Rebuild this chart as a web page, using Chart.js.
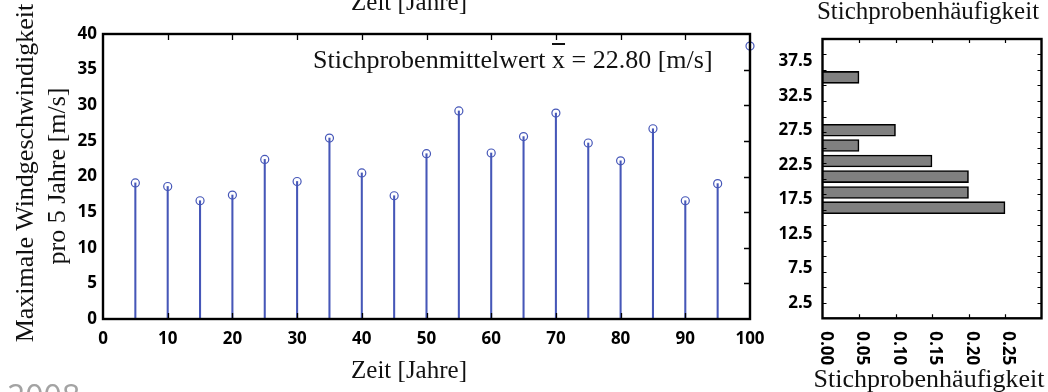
<!DOCTYPE html>
<html>
<head>
<meta charset="utf-8">
<script src="https://cdn.jsdelivr.net/npm/chart.js@4.4.1/dist/chart.umd.min.js"></script>
<style>
  html, body { margin: 0; padding: 0; background: #fff; }
  body { width: 1048px; height: 392px; position: relative; overflow: hidden; }
  canvas { position: absolute; top: 0; }
  #stemChart { left: 0; }
  #histChart { left: 760px; }
  .lbl {
    position: absolute;
    font-family: "Liberation Serif", "Times New Roman", serif;
    font-size: 25px;
    line-height: 25px;
    color: #111;
    white-space: nowrap;
  }
  .ctr { transform: translate(-50%, -50%); }
  .rot { transform: translate(-50%, -50%) rotate(-90deg); }
  .ovl { text-decoration: overline; }
  #year {
    position: absolute;
    font-family: "Open Sans", sans-serif;
    font-size: 32px;
    line-height: 32px;
    color: #a3a3a3;
    left: 7px;
    top: 380px;
  }
</style>
</head>
<body>
<canvas id="stemChart" width="790" height="392"></canvas>
<canvas id="histChart" width="288" height="392"></canvas>

<div class="lbl ctr" style="left:409px; top:1px;">Zeit [Jahre]</div>
<div class="lbl ctr" style="left:928px; top:10px;">Stichprobenhäufigkeit</div>
<div class="lbl" id="meanLabel" style="left:313px; top:47px; font-size:26px;"></div>
<div class="lbl ctr" style="left:409px; top:369px;">Zeit [Jahre]</div>
<div class="lbl ctr" style="left:929px; top:378px; font-size:26px;">Stichprobenhäufigkeit</div>
<div class="lbl rot" style="left:24px; top:173px; font-size:26px;">Maximale Windgeschwindigkeit</div>
<div class="lbl rot" style="left:56px; top:176px; font-size:26px;">pro 5 Jahre [m/s]</div>
<div id="year">2008</div>

<script>
// Time of each 5-year block and the maximum wind speed measured in it [m/s]
const years = [5, 10, 15, 20, 25, 30, 35, 40, 45, 50, 55, 60, 65, 70, 75, 80, 85, 90, 95, 100];
const windMax = [19.1, 18.6, 16.6, 17.4, 22.4, 19.3, 25.4, 20.5, 17.3, 23.2,
                 29.2, 23.3, 25.6, 28.9, 24.7, 22.2, 26.7, 16.6, 19.0, 38.3];
const sampleMean = 22.80;

// Histogram of the sample: class centres [m/s] and relative frequencies
const binCenters = [16.3, 18.5, 20.8, 23.05, 25.3, 27.5, 35.15];
const binFreq = [0.25, 0.20, 0.20, 0.15, 0.05, 0.10, 0.05];

// Axis tick values
const timeTicks = [0, 10, 20, 30, 40, 50, 60, 70, 80, 90, 100];
const speedTicks = [0, 5, 10, 15, 20, 25, 30, 35, 40];
const classTicks = [2.5, 7.5, 12.5, 17.5, 22.5, 27.5, 32.5, 37.5];
const freqTicks = [0, 0.05, 0.10, 0.15, 0.20, 0.25];

document.getElementById('meanLabel').innerHTML =
  'Stichprobenmittelwert <span class="ovl">x</span> = ' + sampleMean.toFixed(2) + ' [m/s]';

const STEM = '#4657b8';
const tickFont = { family: '"Open Sans", sans-serif', size: 17, weight: 'bold' };

// Keep the plot area fixed: no extra room for overhanging tick labels
const noOverhang = s => { s.paddingLeft = 0; s.paddingRight = 0; s.paddingTop = 0; s.paddingBottom = 0; };

// Closed frame around the plot area with short inward tick marks
const frameTicks = {
  id: 'frameTicks',
  afterDatasetsDraw(chart, args, o) {
    const { ctx, chartArea: a, scales } = chart;
    ctx.save();
    ctx.strokeStyle = '#000';
    ctx.lineWidth = o.tickWidth;
    ctx.beginPath();
    const xs = scales.x, ys = scales.y;
    (o.xMarks || []).forEach(v => {
      const px = Math.round(xs.getPixelForValue(v)) + 0.5;
      if (o.top) { ctx.moveTo(px, a.top); ctx.lineTo(px, a.top + o.len); }
      if (o.bottom) { ctx.moveTo(px, a.bottom); ctx.lineTo(px, a.bottom - o.len); }
    });
    (o.yMarks || []).forEach(v => {
      const py = Math.round(ys.getPixelForValue(v)) + 0.5;
      if (o.right) { ctx.moveTo(a.right, py); ctx.lineTo(a.right - o.len, py); }
      if (o.left) { ctx.moveTo(a.left, py); ctx.lineTo(a.left + o.len, py); }
    });
    ctx.stroke();
    ctx.lineWidth = o.frameWidth;
    ctx.strokeRect(a.left, a.top, a.right - a.left, a.bottom - a.top);
    ctx.restore();
  }
};

// Frequency labels below the histogram, turned to read top to bottom
const turnedXLabels = {
  id: 'turnedXLabels',
  afterDraw(chart, args, o) {
    if (!o.values) return;
    const { ctx, chartArea: a, scales } = chart;
    ctx.save();
    ctx.fillStyle = '#000';
    ctx.font = 'bold 17px "Open Sans", sans-serif';
    ctx.textAlign = 'left';
    ctx.textBaseline = 'middle';
    o.values.forEach(v => {
      const px = scales.x.getPixelForValue(v);
      ctx.save();
      ctx.translate(px + 3, a.bottom + 13);
      ctx.rotate(Math.PI / 2);
      ctx.fillText(v.toFixed(2), 0, 0);
      ctx.restore();
    });
    ctx.restore();
  }
};

Chart.register(frameTicks, turnedXLabels);

// Stem plot of the maxima over time
new Chart(document.getElementById('stemChart'), {
  type: 'bar',
  data: {
    datasets: [
      {
        type: 'line',
        data: years.map((t, i) => ({ x: t, y: windMax[i] })),
        showLine: false,
        pointStyle: 'circle',
        pointRadius: 4,
        pointBorderWidth: 1.2,
        pointBorderColor: STEM,
        pointBackgroundColor: 'rgba(0,0,0,0)',
        clip: false
      },
      {
        type: 'bar',
        data: years.map((t, i) => ({ x: t, y: windMax[i] })),
        backgroundColor: STEM,
        borderWidth: 0,
        barThickness: 1.4
      }
    ]
  },
  options: {
    responsive: false,
    animation: false,
    devicePixelRatio: 1,
    events: [],
    layout: { padding: { top: 34, right: 40, left: 0, bottom: 0 } },
    plugins: {
      legend: { display: false },
      tooltip: { enabled: false },
      frameTicks: {
        xMarks: timeTicks.slice(1, -1), yMarks: speedTicks.slice(1, -1),
        top: true, bottom: true, right: true, left: false,
        len: 6, tickWidth: 1.3, frameWidth: 2.4
      }
    },
    scales: {
      x: {
        type: 'linear', min: 0, max: 100, offset: false,
        grid: { display: false, drawTicks: false },
        border: { display: false },
        afterBuildTicks: s => { s.ticks = timeTicks.map(v => ({ value: v })); },
        afterFit: s => { s.height = 73; noOverhang(s); },
        ticks: { font: tickFont, color: '#000', padding: 10, maxRotation: 0, autoSkip: false }
      },
      y: {
        type: 'linear', min: 0, max: 40,
        grid: { display: false, drawTicks: false },
        border: { display: false },
        afterBuildTicks: s => { s.ticks = speedTicks.map(v => ({ value: v })); },
        afterFit: s => { s.width = 103; noOverhang(s); },
        ticks: { font: tickFont, color: '#000', padding: 6 }
      }
    }
  }
});

// Horizontal histogram of the sample
new Chart(document.getElementById('histChart'), {
  type: 'bar',
  data: {
    datasets: [{
      data: binCenters.map((c, i) => ({ x: binFreq[i], y: c })),
      backgroundColor: '#808080',
      borderColor: '#000',
      borderWidth: 1.6,
      barThickness: 12
    }]
  },
  options: {
    indexAxis: 'y',
    responsive: false,
    animation: false,
    devicePixelRatio: 1,
    events: [],
    layout: { padding: { top: 39, right: 6.5, left: 0, bottom: 0 } },
    plugins: {
      legend: { display: false },
      tooltip: { enabled: false },
      frameTicks: {
        xMarks: freqTicks.slice(1),
        yMarks: Array.from({ length: 17 }, (_, k) => 0.3 + 2.245 * (k + 1)),
        top: true, bottom: true, right: true, left: true,
        len: 4, tickWidth: 1.2, frameWidth: 2.4
      },
      turnedXLabels: { values: freqTicks }
    },
    scales: {
      x: {
        type: 'linear', min: 0, max: 0.3, offset: false,
        grid: { display: false, drawTicks: false },
        border: { display: false },
        ticks: { display: false },
        afterFit: s => { s.height = 73.7; noOverhang(s); }
      },
      y: {
        type: 'linear', min: 0.3, max: 40.7, offset: false,
        grid: { display: false, drawTicks: false },
        border: { display: false },
        afterBuildTicks: s => { s.ticks = classTicks.map(v => ({ value: v })); },
        afterFit: s => { s.width = 62.5; noOverhang(s); },
        ticks: { font: tickFont, color: '#000', padding: 10, callback: v => Number(v).toFixed(1) }
      }
    }
  }
});
</script>
</body>
</html>
